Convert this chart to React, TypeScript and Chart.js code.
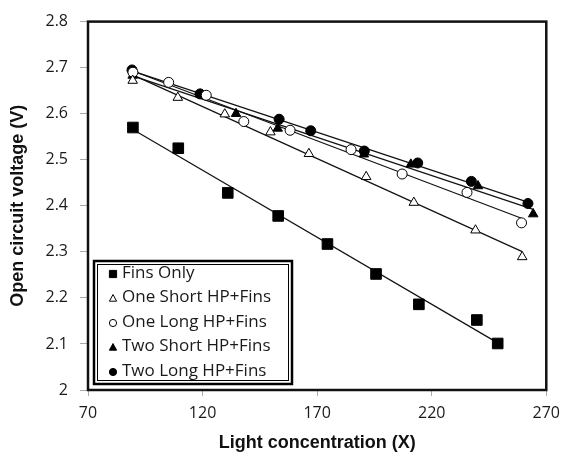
import React, { useEffect, useRef } from "react";
import { Chart, registerables } from "chart.js";

Chart.register(...registerables);

const seriesNames = [
  "Fins Only",
  "One Short HP+Fins",
  "One Long HP+Fins",
  "Two Short HP+Fins",
  "Two Long HP+Fins",
];

const finsOnlyX = [89.6, 109.4, 131, 153, 174.5, 195.7, 214.4, 239.7, 248.8];
const finsOnlyY = [2.57, 2.525, 2.428, 2.378, 2.317, 2.252, 2.186, 2.152, 2.101];

const oneShortX = [89.5, 109.2, 129.7, 149.6, 166.4, 191.4, 212.2, 239.1, 259.5];
const oneShortY = [2.672, 2.635, 2.599, 2.56, 2.513, 2.463, 2.407, 2.347, 2.289];

const oneLongX = [89.6, 105.2, 121.6, 138, 158.2, 184.8, 207.1, 235.4, 259.2];
const oneLongY = [2.69, 2.668, 2.64, 2.583, 2.564, 2.522, 2.469, 2.429, 2.363];

const twoShortX = [89.5, 119, 134.6, 152.8, 190.4, 210.9, 240.2, 264.3];
const twoShortY = [2.683, 2.642, 2.6, 2.568, 2.512, 2.49, 2.443, 2.382];

const twoLongX = [89.2, 118.9, 153.4, 167.2, 190.6, 213.9, 237.3, 262];
const twoLongY = [2.695, 2.643, 2.588, 2.563, 2.519, 2.493, 2.453, 2.405];

const xTicks = [70, 120, 170, 220, 270];
const yTicks = [2, 2.1, 2.2, 2.3, 2.4, 2.5, 2.6, 2.7, 2.8];

const markerStyles = ["rect", "triangle", "circle", "triangle", "circle"];
const markerFilled = [true, false, false, true, true];
const markerRadius = [7.5, 5.5, 5, 5.5, 5];

const allX = [finsOnlyX, oneShortX, oneLongX, twoShortX, twoLongX];
const allY = [finsOnlyY, oneShortY, oneLongY, twoShortY, twoLongY];

function trend(xs: number[], ys: number[]) {
  const n = xs.length;
  const mx = xs.reduce((a, b) => a + b, 0) / n;
  const my = ys.reduce((a, b) => a + b, 0) / n;
  let sxy = 0, sxx = 0;
  for (let i = 0; i < n; i++) {
    sxy += (xs[i] - mx) * (ys[i] - my);
    sxx += (xs[i] - mx) * (xs[i] - mx);
  }
  const b = sxy / sxx;
  const a = my - b * mx;
  const x0 = Math.min(...xs), x1 = Math.max(...xs);
  return [{ x: x0, y: a + b * x0 }, { x: x1, y: a + b * x1 }];
}

const FONT = "'Open Sans', 'Noto Sans', sans-serif";
const TITLE_FONT = "Arial, 'Liberation Sans', sans-serif";

function drawMarker(ctx: CanvasRenderingContext2D, style: string, filled: boolean, x: number, y: number, r: number) {
  ctx.save();
  ctx.beginPath();
  if (style === "rect") {
    ctx.rect(x - r, y - r, 2 * r, 2 * r);
  } else if (style === "triangle") {
    ctx.moveTo(x, y - r * 1.1);
    ctx.lineTo(x + r, y + r * 0.75);
    ctx.lineTo(x - r, y + r * 0.75);
    ctx.closePath();
  } else {
    ctx.arc(x, y, r, 0, Math.PI * 2);
  }
  ctx.fillStyle = filled ? "#000" : "#fff";
  ctx.fill();
  ctx.lineWidth = 1;
  ctx.strokeStyle = "#000";
  ctx.stroke();
  ctx.restore();
}

const framePlugin = {
  id: "frameAndLegend",
  afterDraw(chart: any) {
    const ctx: CanvasRenderingContext2D = chart.ctx;
    const a = chart.chartArea;
    ctx.save();
    ctx.strokeStyle = "#111";
    ctx.lineWidth = 2.5;
    ctx.strokeRect(a.left, a.top, a.right - a.left, a.bottom - a.top);

    // legend box
    const lx = 94, ly = 261, lw = 198, lh = 123;
    ctx.fillStyle = "#fff";
    ctx.fillRect(lx, ly, lw, lh);
    ctx.strokeStyle = "#000";
    ctx.lineWidth = 2.5;
    ctx.strokeRect(lx, ly, lw, lh);
    ctx.lineWidth = 1;
    ctx.strokeRect(lx + 3.5, ly + 3.5, lw - 7, lh - 7);

    ctx.font = "17px " + FONT;
    ctx.textBaseline = "middle";
    ctx.textAlign = "left";
    ctx.fillStyle = "#1a1a1a";
    for (let i = 0; i < seriesNames.length; i++) {
      const yy = 273 + i * 24.5;
      drawMarker(ctx, markerStyles[i], markerFilled[i], 113, yy + 1, 3.6);
      ctx.fillText(seriesNames[i], 122, yy);
    }
    ctx.restore();
  },
};

export default function App() {
  const ref = useRef<HTMLCanvasElement>(null);
  useEffect(() => {
    document.body.style.margin = "0";
    const pointSets = seriesNames.map((name, i) => ({
      type: "scatter" as const,
      label: name,
      data: allX[i].map((x, j) => ({ x, y: allY[i][j] })),
      pointStyle: markerStyles[i],
      pointRadius: markerRadius[i],
      pointBackgroundColor: markerFilled[i] ? "#000" : "#fff",
      pointBorderColor: "#000",
      pointBorderWidth: 1,
      showLine: false,
      order: 0,
    }));
    const lineSets = seriesNames.map((name, i) => ({
      type: "line" as const,
      label: name + " trend",
      data: trend(allX[i], allY[i]),
      borderColor: "#111",
      borderWidth: 1.2,
      pointRadius: 0,
      fill: false,
      order: 1,
    }));
    const chart = new Chart(ref.current!, {
      type: "scatter",
      data: { datasets: [...lineSets, ...pointSets] as any },
      options: {
        animation: false,
        responsive: false,
        devicePixelRatio: 1,
        layout: { padding: { top: 16, right: 18, left: 0, bottom: 0 } },
        plugins: { legend: { display: false }, tooltip: { enabled: false } },
        scales: {
          x: {
            type: "linear",
            min: 70,
            max: 270,
            afterBuildTicks: (s: any) => { s.ticks = xTicks.map((v) => ({ value: v })); },
            afterFit: (s: any) => { s.height = 75; },
            ticks: { font: { size: 16, family: FONT }, color: "#1a1a1a", padding: 8 },
            grid: { drawOnChartArea: false, tickLength: 6, color: "#aaa" },
            border: { display: false },
            title: {
              display: true,
              text: "Light concentration (X)",
              font: { size: 18, weight: "bold", family: TITLE_FONT },
              color: "#111",
              padding: { top: 0, bottom: 11 },
            },
          },
          y: {
            type: "linear",
            min: 2,
            max: 2.8,
            afterBuildTicks: (s: any) => { s.ticks = yTicks.map((v) => ({ value: v })); },
            afterFit: (s: any) => { s.width = 88; },
            ticks: {
              font: { size: 16, family: FONT },
              color: "#1a1a1a",
              padding: 12,
              callback: (v: any) => String(Number(Number(v).toFixed(1))),
            },
            grid: { drawOnChartArea: false, tickLength: 8, color: "#aaa" },
            border: { display: false },
            title: {
              display: true,
              text: "Open circuit voltage (V)",
              font: { size: 18, weight: "bold", family: TITLE_FONT },
              color: "#111",
              padding: { top: 7, bottom: 0 },
            },
          },
        },
      },
      plugins: [framePlugin],
    });
    return () => chart.destroy();
  }, []);
  return (
    <div style={{ width: 568, height: 465 }}>
      <canvas ref={ref} width={568} height={465} style={{ display: "block" }} />
    </div>
  );
}
